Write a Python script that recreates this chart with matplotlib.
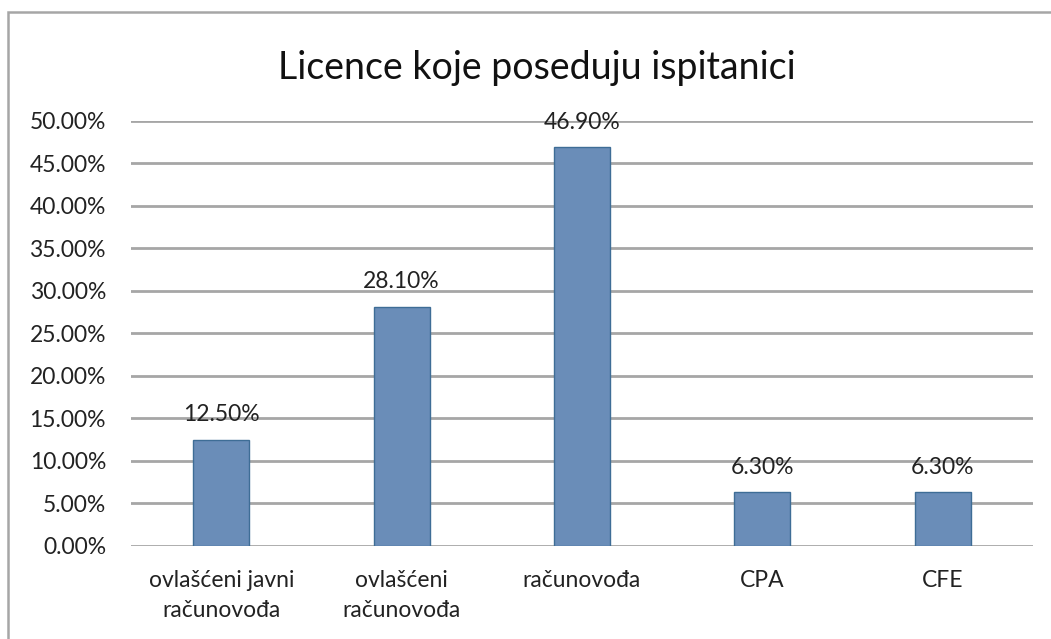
import matplotlib.pyplot as plt
from matplotlib.patches import Rectangle
from matplotlib.ticker import FuncFormatter

categories = ['ovlašćeni javni\nračunovođa', 'ovlašćeni\nračunovođa', 'računovođa', 'CPA', 'CFE']
values = [12.5, 28.1, 46.9, 6.3, 6.3]
y_ticks = [0, 5, 10, 15, 20, 25, 30, 35, 40, 45, 50]

plt.rcParams['font.family'] = ['Lato', 'DejaVu Sans']

fig = plt.figure(figsize=(10.51, 6.39), dpi=100)
ax = fig.add_axes([131 / 1051, (639 - 546) / 639, (1033 - 131) / 1051, (546 - 120.7) / 639])

# outer chart border (runs off the right and bottom edges like the screenshot)
fig.patches.append(Rectangle((8 / 1051, -0.05), 1.1, (639 - 12) / 639 + 0.05,
                             transform=fig.transFigure, fill=False,
                             edgecolor='#A6A6A6', linewidth=1.8))

x = range(len(categories))
bars = ax.bar(x, values, width=0.31, color='#6A8DB8', edgecolor='#3E6D96',
              linewidth=1.0, zorder=3)

for xi, v in zip(x, values):
    ax.annotate(f'{v:.2f}%', (xi, v), xytext=(0, 18), textcoords='offset points',
                ha='center', va='center', fontsize=16.5, color='#222222', zorder=4)

ax.set_xlim(-0.5, len(categories) - 0.5)
ax.set_ylim(0, 50)
ax.set_yticks(y_ticks)
ax.yaxis.set_major_formatter(FuncFormatter(lambda v, p: f'{v:.2f}%'))
ax.set_xticks(list(x))
ax.set_xticklabels(categories, linespacing=1.55)
ax.tick_params(axis='y', length=0, pad=18, labelsize=16.5, labelcolor='#222222')
ax.tick_params(axis='x', length=0, pad=17, labelsize=16.5, labelcolor='#222222')
ax.grid(axis='y', color='#A6A6A6', linewidth=2, zorder=0)
for s in ax.spines.values():
    s.set_visible(False)

fig.text(537 / 1051, (639 - 68) / 639, 'Licence koje poseduju ispitanici',
         ha='center', va='center', fontsize=27, color='#111111')

fig.savefig('out.png', dpi=100)
